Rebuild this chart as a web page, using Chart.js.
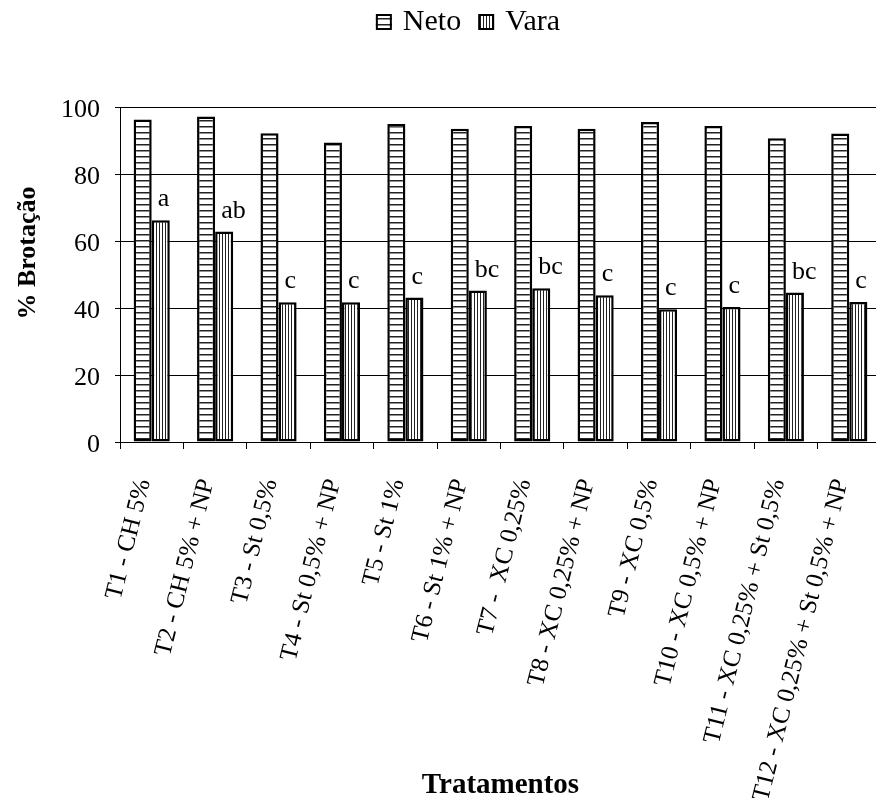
<!DOCTYPE html>
<html>
<head>
<meta charset="utf-8">
<script src="https://cdn.jsdelivr.net/npm/chart.js@4/dist/chart.umd.min.js"></script>
<style>
  html, body { margin: 0; padding: 0; background: #fff; overflow: hidden; }
  canvas { display: block; }
</style>
</head>
<body>
<canvas id="grafico" width="882" height="798"></canvas>
<script>
const categorias = [
  'T1 - CH 5%', 'T2 - CH 5% + NP', 'T3 - St 0,5%', 'T4 - St 0,5% + NP',
  'T5 - St 1%', 'T6 - St 1% + NP', 'T7 -  XC 0,25%', 'T8 - XC 0,25% + NP',
  'T9 - XC 0,5%', 'T10 - XC 0,5% + NP', 'T11 - XC 0,25% + St 0,5%',
  'T12 - XC 0,25% + St 0,5% + NP'
];
const neto = [96.3, 97.2, 92.2, 89.4, 94.9, 93.5, 94.3, 93.5, 95.5, 94.3, 90.7, 92.1];
const vara = [66.2, 62.8, 41.7, 41.7, 43.1, 45.2, 45.9, 43.8, 39.6, 40.3, 44.6, 41.8];
const letras = ['a', 'ab', 'c', 'c', 'c', 'bc', 'bc', 'c', 'c', 'c', 'bc', 'c'];
const yTicks = [0, 20, 40, 60, 80, 100];

const serif = "'Liberation Serif', 'Times New Roman', serif";

// hachuras: listras horizontais (Neto) e verticais (Vara)
function hachura(tipo) {
  const c = document.createElement('canvas');
  const ctx = c.getContext('2d');
  if (tipo === 'h') {
    c.width = 6; c.height = 6;
    ctx.fillStyle = '#fff';
    ctx.fillRect(0, 0, 6, 6);
    ctx.fillStyle = '#222';
    ctx.fillRect(0, 0, 6, 1.5);
  } else {
    c.width = 3; c.height = 3;
    ctx.fillStyle = '#fff';
    ctx.fillRect(0, 0, 3, 3);
    ctx.fillStyle = '#222';
    ctx.fillRect(0, 0, 1, 3);
  }
  return ctx.createPattern(c, 'repeat');
}

const textos = {
  id: 'textos',
  afterDraw(chart) {
    const ctx = chart.ctx;
    const area = chart.chartArea;
    ctx.save();
    ctx.fillStyle = '#000';

    // letras sobre as barras de Vara
    ctx.font = '26px ' + serif;
    ctx.textAlign = 'left';
    ctx.textBaseline = 'alphabetic';
    chart.getDatasetMeta(1).data.forEach((bar, i) => {
      ctx.fillText(letras[i], bar.x - 3, bar.y - 14);
    });

    // titulo do eixo x
    ctx.font = 'bold 29px ' + serif;
    ctx.textAlign = 'center';
    ctx.fillText('Tratamentos', (area.left + area.right) / 2, 793);

    // titulo do eixo y
    ctx.save();
    ctx.translate(28, 253);
    ctx.rotate(-Math.PI / 2);
    ctx.font = 'bold 26px ' + serif;
    ctx.textBaseline = 'middle';
    ctx.fillText('% Brotação', 0, 0);
    ctx.restore();

    // legenda
    ctx.font = '30px ' + serif;
    ctx.textAlign = 'left';
    const box = 16, gap = 11, sep = 17;
    const itens = chart.data.datasets;
    let total = 0;
    itens.forEach((ds, i) => {
      total += box + gap + ctx.measureText(ds.label).width + (i < itens.length - 1 ? sep : 0);
    });
    let x = 468 - total / 2;
    itens.forEach(ds => {
      ctx.fillStyle = ds.backgroundColor;
      ctx.fillRect(x, 14, box, box);
      ctx.lineWidth = 2;
      ctx.strokeStyle = '#000';
      ctx.strokeRect(x + 1, 15, box - 2, box - 2);
      ctx.fillStyle = '#000';
      ctx.fillText(ds.label, x + box + gap, 30);
      x += box + gap + ctx.measureText(ds.label).width + sep;
    });
    ctx.restore();
  }
};

new Chart(document.getElementById('grafico'), {
  type: 'bar',
  data: {
    labels: categorias,
    datasets: [
      {
        label: 'Neto',
        data: neto,
        backgroundColor: hachura('h'),
        borderColor: '#000',
        borderWidth: 2.5,
        borderSkipped: false,
        categoryPercentage: 0.57,
        barPercentage: 1
      },
      {
        label: 'Vara',
        data: vara,
        backgroundColor: hachura('v'),
        borderColor: '#000',
        borderWidth: 2.5,
        borderSkipped: false,
        categoryPercentage: 0.57,
        barPercentage: 1
      }
    ]
  },
  options: {
    responsive: false,
    animation: false,
    layout: { padding: { top: 107, left: 0, right: 1, bottom: 0 } },
    plugins: {
      legend: { display: false },
      tooltip: { enabled: false }
    },
    scales: {
      x: {
        afterFit: s => {
          s.height = 356;
          s.paddingLeft = 0;
          s.paddingRight = 0;
        },
        grid: {
          offset: true,
          drawOnChartArea: false,
          color: '#000',
          tickLength: 7
        },
        border: { color: '#000', width: 1 },
        ticks: {
          color: '#000',
          font: { family: serif, size: 25 },
          minRotation: 76,
          maxRotation: 76,
          autoSkip: false,
          labelOffset: -8,
          padding: 27
        }
      },
      y: {
        min: 0,
        max: 100,
        afterFit: s => {
          s.width = 120;
          s.paddingTop = 0;
          s.paddingBottom = 0;
        },
        afterBuildTicks: s => { s.ticks = yTicks.map(v => ({ value: v })); },
        grid: { color: '#000', lineWidth: 1, tickLength: 5 },
        border: { color: '#000', width: 1 },
        ticks: {
          color: '#000',
          font: { family: serif, size: 26 },
          padding: 15,
          labelOffset: 3
        }
      }
    }
  },
  plugins: [textos]
});
</script>
</body>
</html>
